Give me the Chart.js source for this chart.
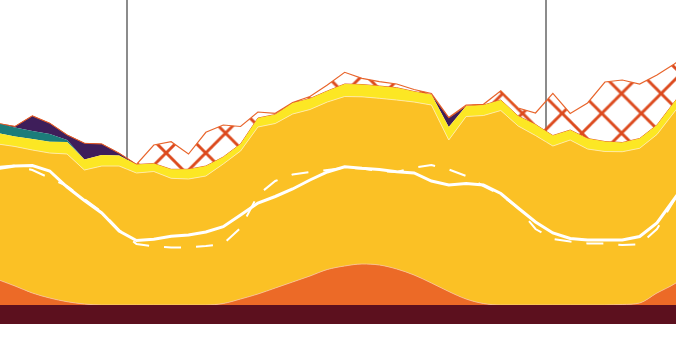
<!DOCTYPE html>
<html>
<head>
<meta charset="utf-8">
<script src="https://cdn.jsdelivr.net/npm/chart.js@4.4.1/dist/chart.umd.min.js"></script>
<style>
    html, body { margin: 0; padding: 0; background: #fff; }
    #wrap { width: 676px; height: 344px; }
</style>
</head>
<body>
<div id="wrap"><canvas id="myChart"></canvas></div>
<script>
'use strict';

// x positions (period index) and the two reference lines
const periods = [0, 1, 2, 3, 4, 5, 6, 7, 8, 9, 10, 11, 12, 13, 14, 15, 16, 17, 18, 19, 20,
    21, 22, 23, 24, 25, 26, 27, 28, 29, 30, 31, 32, 33, 34, 35, 36, 37, 38, 39, 40];
const markers = [7.455, 31.6];

// stacked layers, bottom to top
const baseBand = [19, 19, 19, 19, 19, 19, 19, 19, 19, 19, 19, 19, 19, 19, 19, 19, 19, 19, 19, 19, 19,
    19, 19, 19, 19, 19, 19, 19, 19, 19, 19, 19, 19, 19, 19, 19, 19, 19, 19, 19, 19];
const orangeArea = [25.5, 19, 12, 7, 3.3, 1, 0, 0, 0, 0, 0, 0, 0, 1.5, 6, 11, 17, 23, 29, 35.5, 39,
    41, 40, 36, 30, 22, 13.5, 6, 1.5, 0, 0, 0, 0, 0, 0, 0, 0.5, 2, 12, 21, 33];
const goldArea = [135.5, 139.5, 143, 145, 147.7, 134, 139, 139, 132, 133.5, 126.7, 126, 129, 139.5, 148,
    167, 164.5, 168, 166.5, 167.5, 169.5, 167.2, 166.7, 169, 173, 178, 151.5, 182.5, 188, 194.5, 179,
    169.5, 159, 165, 156, 153.5, 152.8, 154.7, 158.5, 172, 182];
const yellowBand = [11, 10, 11, 11.3, 12, 10.5, 11, 10.5, 8.5, 8, 9, 9.7, 10, 7, 7, 9, 9, 11, 11, 11, 12.5,
    12.3, 12.3, 12.3, 10.5, 10.5, 13, 10.5, 10.5, 10.5, 10, 11, 10.5, 10, 10.5, 10, 9.2, 9.8, 9.5, 10, 10];
const tealBand = [9.5, 9, 8, 7.7, 2, 0, 0, 0, 0, 0, 0, 0, 0, 0, 0, 0, 0, 0, 0, 0, 0,
    0, 0, 0, 0, 0, 0, 0, 0, 0, 0, 0, 0, 0, 0, 0, 0, 0, 0, 0, 0];
const purpleBand = [0, 1, 15, 10.7, 5, 16.2, 11, 2.2, 0, 0, 0, 0, 0, 0, 0, 0, 0, 0, 0, 0, 0,
    0, 0, 0, 0, 0, 9, 0, 0, 0, 0, 0, 0, 0, 0, 0, 0, 0, 0, 0, 0];
const hatchBand = [0, 0, 0, 0, 0, 0, 0, 0, 0, 18.5, 27.6, 15.3, 33.7, 32, 17.5, 6, 1.2, 0.5, 2, 6, 11.7,
    6.2, 4.3, 3.7, 2, 1, 0.5, 1, 0.7, 9.3, 8, 11.5, 42.2, 16.5, 35.5, 59.5, 62.5, 54.5, 50, 38, 28];

// overlay lines
const solidLine = [155.5, 158, 158.5, 153, 137, 123.5, 111, 93, 83.5, 84.7, 87.7, 89, 92, 97.3, 109,
    121, 127.5, 135, 144, 152, 157.3, 155.7, 154.5, 152.3, 151, 143, 139, 140.5, 139, 130.5, 116,
    102, 91, 85.5, 84, 84, 84, 87.5, 101, 125, 149];
const dashedLine = [157, 158.5, 154, 146, 138, 125, 112, 94, 80, 77.5, 76.5, 76.5, 78, 80, 96,
    129, 143, 149.5, 152, 154, 156, 155.5, 153, 152, 156.5, 159, 154.5, 148, 138, 129, 116,
    95, 85, 82.5, 80.5, 80.5, 79, 79.5, 95, 124, 144];

const canvas = document.getElementById('myChart');
const ctx = canvas.getContext('2d');

// cross hatch tile
function makeHatch() {
    const size = 40;
    const tile = document.createElement('canvas');
    tile.width = size;
    tile.height = size;
    const g = tile.getContext('2d');
    g.strokeStyle = '#dc4a1e';
    g.lineWidth = 3;
    g.beginPath();
    [-size, 0, size].forEach((k) => {
        g.moveTo(k - size, -size);
        g.lineTo(k + 2 * size, 2 * size);
        g.moveTo(k + 2 * size, -size);
        g.lineTo(k - size, 2 * size);
    });
    g.stroke();
    const pattern = ctx.createPattern(tile, 'repeat');
    pattern.setTransform(new DOMMatrix([0.99, 0, 0, 0.99, 7.7, 34.1]));
    return pattern;
}

function area(data, color, extra) {
    return Object.assign({
        data: data,
        stack: 'area',
        fill: '-1',
        backgroundColor: color,
        borderColor: color,
        borderWidth: 0,
        pointRadius: 0,
    }, extra || {});
}

const data = {
    labels: periods,
    datasets: [
        {
            data: solidLine,
            stack: 'solid',
            fill: false,
            borderColor: '#ffffff',
            borderWidth: 3,
            pointRadius: 0,
        },
        {
            data: dashedLine,
            stack: 'dashed',
            fill: false,
            borderColor: '#ffffff',
            borderWidth: 2,
            borderDash: [17, 15],
            pointRadius: 0,
        },
        area(baseBand, '#5c101e', { fill: 'origin' }),
        area(orangeArea, '#ec6a27', {
            cubicInterpolationMode: 'monotone',
            borderColor: 'rgba(250, 200, 150, 0.8)',
            borderWidth: 1,
        }),
        area(goldArea, '#fbc125', {
            borderColor: 'rgba(255, 236, 170, 0.9)',
            borderWidth: 1,
        }),
        area(yellowBand, '#fce724'),
        area(tealBand, '#1c7c7a'),
        area(purpleBand, '#3e1e5a', {
            borderColor: '#e05a2a',
            borderWidth: 1,
        }),
        area(hatchBand, makeHatch(), {
            borderColor: '#e8652c',
            borderWidth: 1.2,
        }),
    ],
};

const config = {
    type: 'line',
    data: data,
    options: {
        responsive: true,
        maintainAspectRatio: false,
        animation: false,
        layout: { padding: { left: 0, right: 0, top: 0, bottom: 20 } },
        elements: { line: { tension: 0 }, point: { radius: 0 } },
        scales: {
            x: {
                type: 'linear',
                min: 0.135,
                max: 39.097,
                afterBuildTicks: (axis) => {
                    axis.ticks = markers.map((v) => ({ value: v }));
                },
                grid: { color: '#8c8c8c', lineWidth: 2, drawTicks: false },
                ticks: { display: false },
                border: { display: false },
            },
            y: {
                stacked: true,
                min: 0,
                max: 324,
                display: false,
            },
        },
        plugins: {
            legend: { display: false },
            tooltip: { enabled: false },
        },
    },
};

const myChart = new Chart(canvas, config);
</script>
</body>
</html>
